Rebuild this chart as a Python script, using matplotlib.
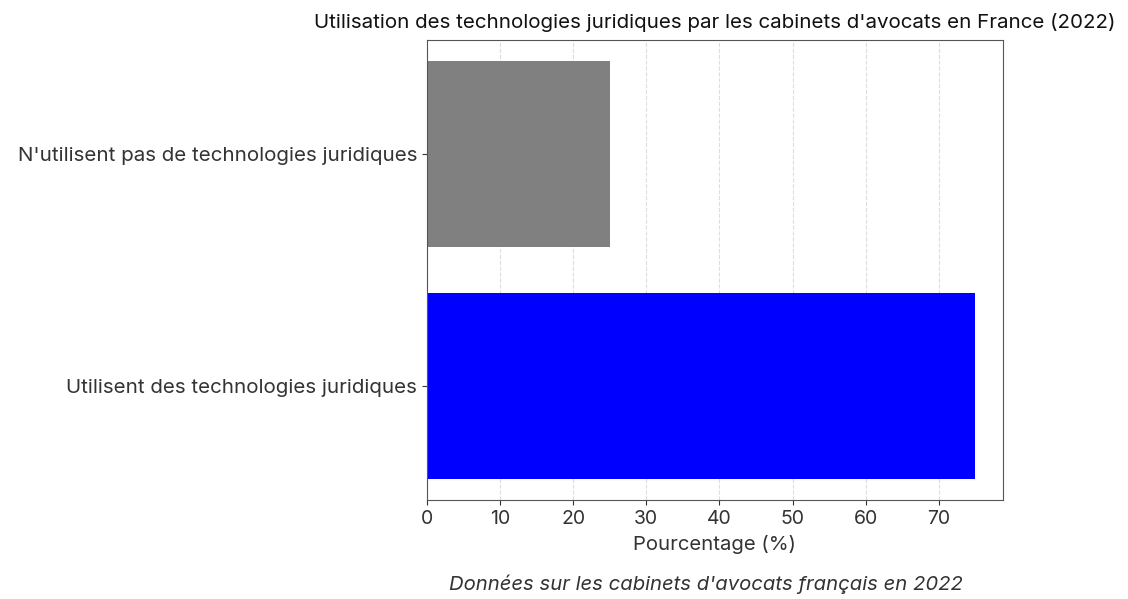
import matplotlib
matplotlib.use('Agg')
import matplotlib.pyplot as plt

plt.rcParams['font.family'] = ['Inter', 'DejaVu Sans']

categories = ['Utilisent des technologies juridiques',
              "N'utilisent pas de technologies juridiques"]
values = [75, 25]
colors = ['blue', 'gray']

fig = plt.figure(figsize=(11.28, 5.99), dpi=100)
ax = fig.add_axes([0.3785, 0.165, 0.5105, 0.768])

ax.barh(categories, values, color=colors, height=0.8)
ax.set_xticks(range(0, 80, 10))
ax.grid(axis='x', linestyle='--', color='#dddddd', linewidth=0.8)
ax.set_axisbelow(True)
ax.tick_params(axis='y', labelsize=14.8, colors='#333333')
ax.tick_params(axis='x', labelsize=14, colors='#333333')
for s in ax.spines.values():
    s.set_color('#555555')

ax.set_xlabel('Pourcentage (%)', fontsize=14.6, color='#333333', labelpad=5)
ax.set_title("Utilisation des technologies juridiques par les cabinets d'avocats en France (2022)",
             fontsize=14.8, color='#111111', pad=9)
fig.text(0.626, 0.015, "Données sur les cabinets d'avocats français en 2022",
         ha='center', fontsize=14.6, style='italic', color='#333333')

fig.savefig('out.png', dpi=100)
